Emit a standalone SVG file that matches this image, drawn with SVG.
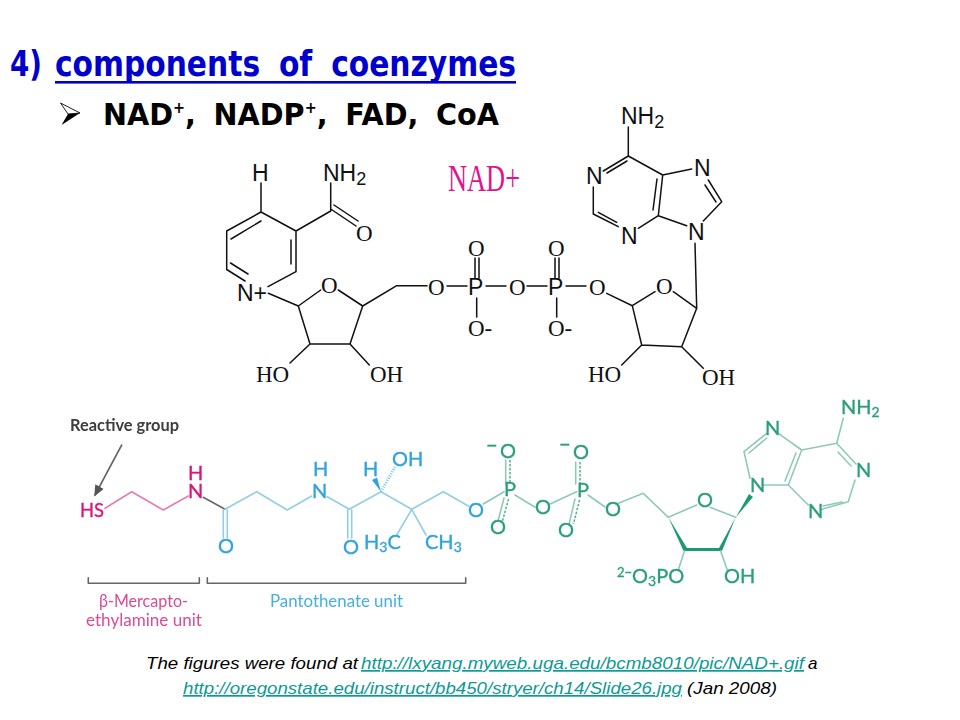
<svg xmlns="http://www.w3.org/2000/svg" width="960" height="720" viewBox="0 0 960 720">
<style>
.h1{font-family:"DejaVu Sans",sans-serif;font-weight:700;font-size:35px;fill:#0000cc}
.h2{font-family:"DejaVu Sans",sans-serif;font-weight:700;font-size:30px;fill:#000}
.a{font-family:"Liberation Sans",Arial,sans-serif;font-size:23px;fill:#111}
.t{font-family:"Liberation Serif","Times New Roman",serif;font-size:23px;fill:#111}
.b{fill:none;stroke:#111;stroke-width:1.5;stroke-linecap:round;stroke-linejoin:round}
.c{font-family:"Lato","Open Sans",sans-serif;font-size:20px;stroke-width:.35}
.l{font-family:"Lato","Open Sans",sans-serif;font-size:17px}
.pk{fill:#d6157a;stroke:#d6157a}.bl{fill:#2fa3dd;stroke:#2fa3dd}.gr{fill:#2b9f78;stroke:#2b9f78}
.pkb,.blb,.grb,.gyb{fill:none;stroke-width:1.6;stroke-linecap:round;stroke-linejoin:round}
.pkb{stroke:#e27fb0}.blb{stroke:#93cde6}.grb{stroke:#8fcbb3}.gyb{stroke:#666}
.grd{fill:none;stroke:#4fb08e;stroke-width:1.5;stroke-dasharray:2.5 1.5}
.f{font-family:"Liberation Sans",Arial,sans-serif;font-style:italic;font-size:17px;fill:#000}
.u{fill:#0e9a94;text-decoration:underline}
.w{fill:#1f9a70}
</style>
<defs>
<filter id="soft" x="-5%" y="-5%" width="110%" height="110%"><feGaussianBlur stdDeviation="0.35"/></filter>
<marker id="arr" markerWidth="8" markerHeight="8" refX="6" refY="3" orient="auto"><path d="M0 0L7 3L0 6z" fill="#555"/></marker>
</defs>
<rect width="960" height="720" fill="#fff"/>

<g id="title">
<text class="h1" x="10" y="76" textLength="32" lengthAdjust="spacingAndGlyphs">4)</text>
<text class="h1" x="55" y="76" word-spacing="10" textLength="461" lengthAdjust="spacingAndGlyphs">components of coenzymes</text>
<rect x="55" y="81" width="461" height="2.6" fill="#0000cc"/>
<polygon points="60.5,103 80,113 61.5,125 68,114" fill="#000"/>
<polygon points="60.5,103 80,113 68,114" fill="#fff" stroke="#000" stroke-width=".8"/>
<text class="h2" x="103" y="125" word-spacing="8" textLength="396" lengthAdjust="spacingAndGlyphs">NAD<tspan font-size="15" dy="-12">+</tspan><tspan dy="12">, NADP</tspan><tspan font-size="15" dy="-12">+</tspan><tspan dy="12">, FAD, CoA</tspan></text>
</g>

<g id="nad">
<g class="connectors">
<path class="b" d="M261 183V212L226.7 231V269.5L245 281M231 239L261 221M230.5 263L248 274M268 286.7L296 271.7V231L261 212M291 264V240M296 231L330.7 211V183M330.7 209L356 226M334 205L358 221"/>
<path class="b" d="M268.3 293.3L298.3 306L320.7 290M338.3 290L362.7 306L350 344H310L298.3 306M310 344L290 363M350 344L369.3 365M362.7 306L396.7 285.7H427"/>
<path class="b" d="M447 286H467M486 286H506M527 286H547M566 286H586M475 258V278M479 258V278M555 258V278M559 258V278M476.7 298V317M556.7 298V317"/>
<path class="b" d="M606.7 293.3L632.3 305.7L655 291.7M673.3 291.7L696.7 308.3L681.7 346.7L641.7 345L632.3 305.7M641.7 345L621.7 365M681.7 346.7L703.3 368.3M695 243.3L696.7 308.3"/>
<path class="b" d="M628.3 127V156L603.3 171M607 173L627 161M628.3 156L662.7 175L658.3 215.7L638.3 228.3M657 179L653 210M662.7 175L691.7 169M708.3 180L721.7 201.7L703.3 221M705 185L716 202M658.3 215.7L686.7 225.7M618.3 226.7L593.3 214V187M598.3 212.3L616.7 222.3"/>
</g>
<text class="a" x="252" y="181">H</text>
<text class="a" x="323" y="181">NH<tspan font-size="18" dy="4">2</tspan></text>
<text class="t" x="356" y="241">O</text>
<text class="a" x="237" y="301">N+</text>
<text class="t" x="321" y="293">O</text>
<text class="t" x="256" y="382">HO</text>
<text class="t" x="370" y="382">OH</text>
<text class="t" x="428" y="295">O</text>
<text class="a" x="468" y="295">P</text>
<text class="t" x="509" y="295">O</text>
<text class="a" x="548" y="295">P</text>
<text class="t" x="589" y="295">O</text>
<text class="t" x="468" y="256">O</text>
<text class="t" x="548" y="256">O</text>
<text class="t" x="468" y="336">O-</text>
<text class="t" x="548" y="336">O-</text>
<text class="t" x="656" y="294">O</text>
<text class="t" x="588" y="382">HO</text>
<text class="t" x="702" y="385">OH</text>
<text class="a" x="621" y="124">NH<tspan font-size="18" dy="4">2</tspan></text>
<text class="a" x="586" y="184">N</text>
<text class="a" x="694" y="176">N</text>
<text class="a" x="621" y="244">N</text>
<text class="a" x="688" y="240">N</text>
<text x="448" y="191" font-family="Liberation Serif,serif" font-size="37" fill="#e0148c" textLength="72" lengthAdjust="spacingAndGlyphs">NAD+</text>
</g>

<g id="coa" filter="url(#soft)">
<g class="connectors">
<path class="gyb" d="M121.7 445L95 495" marker-end="url(#arr)" stroke-width="1.2"/>
<path class="pkb" d="M105 508.3L131.7 491.7L163.3 510L188.3 496"/>
<path class="gyb" d="M203.3 497.3L225 509.3"/>
<path class="blb" d="M225 509.3L256.7 491.7L287.3 510L311.7 496M223.3 510V538M227.3 510V538M327.3 496.7L349.3 509.3L381 491.7L411.7 509.3L443.3 491.7L468.3 506M347.7 510V538M351.7 510V538M411.7 509.3L396.7 535M411.7 509.3L426 535"/>
<polygon points="381,491.7 372,480 377,477.5" fill="#2fa3dd"/>
<path d="M381 491.7L395 467" fill="none" stroke="#7fc4e4" stroke-width="3" stroke-dasharray="1 1.5"/>
<path class="grb" d="M483.3 504L504 491.7M515 495L535 507.3M550 504L576.7 491.7M588 495L605 507M505.7 460V484M575.7 462V484M504 498L498.3 520M575 499L569.3 523"/>
<path class="grd" d="M510 460V484M508.5 499L502.5 521M580 462V484M579.5 500L573.5 524"/>
<path class="grb" d="M618.3 503.3L643.3 493.3L668.3 517.3L696.7 505M710 507.3L735.7 517.3M678.3 570L685 549.3M727.3 570L720 549.3M750 478.3L744 451.7L766.7 433.3M749 453L766.7 438M778.3 433.3L801.7 450L788.3 485L763.3 485M796 453L785 481M801.7 450L836.7 443.3L843.3 418.3M836.7 443.3L856 464M838 452L851 466M855 480L848.3 501.7L821.7 509.3M842 502L823 506M808.3 505L788.3 485"/>
<polygon class="w" points="735.7,517.5 749,494 753,497"/>
<polygon class="w" points="668.3,517.3 683.5,551 687,548"/>
<polygon class="w" points="685,548 720,548 720,551 685,551"/>
<polygon class="w" points="735.7,517.3 722,551 718.5,549"/>
<path class="gyb" d="M88.3 577.7V583.3H199.3V577.7M207.3 577.7V583.3H465.7V577.7" stroke-width="1.4"/>
</g>
<text class="l" x="70" y="431" fill="#3c3c3c" font-weight="700" textLength="109" lengthAdjust="spacingAndGlyphs">Reactive group</text>
<text class="c pk" x="80" y="517" textLength="24" lengthAdjust="spacingAndGlyphs">HS</text>
<text class="c pk" x="188" y="480">H</text>
<text class="c pk" x="188" y="498">N</text>
<text class="c bl" x="218" y="553">O</text>
<text class="c bl" x="313" y="476">H</text>
<text class="c bl" x="312" y="498">N</text>
<text class="c bl" x="343" y="554">O</text>
<text class="c bl" x="363" y="476">H</text>
<text class="c bl" x="392" y="466">OH</text>
<text class="c bl" x="364" y="549">H<tspan font-size="14" dy="3">3</tspan><tspan dy="-3">C</tspan></text>
<text class="c bl" x="425" y="549">CH<tspan font-size="14" dy="3">3</tspan></text>
<text class="c bl" x="468" y="517">O</text>
<text class="c gr" x="504" y="496">P</text>
<text class="c gr" x="500" y="458">O</text>
<text class="c gr" x="486" y="452">−</text>
<text class="c gr" x="490" y="534">O</text>
<text class="c gr" x="535" y="514">O</text>
<text class="c gr" x="577" y="497">P</text>
<text class="c gr" x="573" y="459">O</text>
<text class="c gr" x="559" y="451">−</text>
<text class="c gr" x="558" y="537">O</text>
<text class="c gr" x="605" y="516">O</text>
<text class="c gr" x="697" y="507">O</text>
<text class="c gr" x="617" y="583"><tspan font-size="13" dy="-6">2−</tspan><tspan dy="6">O</tspan><tspan font-size="14" dy="3">3</tspan><tspan dy="-3">PO</tspan></text>
<text class="c gr" x="724" y="583">OH</text>
<text class="c gr" x="750" y="492">N</text>
<text class="c gr" x="765" y="435">N</text>
<text class="c gr" x="808" y="518">N</text>
<text class="c gr" x="856" y="477">N</text>
<text class="c gr" x="841" y="414">NH<tspan font-size="14" dy="3">2</tspan></text>
<text class="l" x="99" y="607" fill="#dc4a95" textLength="89" lengthAdjust="spacingAndGlyphs">β-Mercapto-</text>
<text class="l" x="86" y="626" fill="#dc4a95" textLength="116" lengthAdjust="spacingAndGlyphs">ethylamine unit</text>
<text class="l" x="270" y="607" fill="#45b0e0" textLength="133" lengthAdjust="spacingAndGlyphs">Pantothenate unit</text>
</g>

<g id="footer">
<text class="f" x="146" y="669" textLength="212" lengthAdjust="spacingAndGlyphs">The figures were found at</text>
<text class="f u" x="361" y="669" textLength="443" lengthAdjust="spacingAndGlyphs">http://lxyang.myweb.uga.edu/bcmb8010/pic/NAD+.gif</text>
<text class="f" x="808" y="669">a</text>
<text class="f u" x="183" y="694" textLength="499" lengthAdjust="spacingAndGlyphs">http://oregonstate.edu/instruct/bb450/stryer/ch14/Slide26.jpg</text>
<text class="f" x="687" y="694" textLength="90" lengthAdjust="spacingAndGlyphs">(Jan 2008)</text>
</g>
</svg>
